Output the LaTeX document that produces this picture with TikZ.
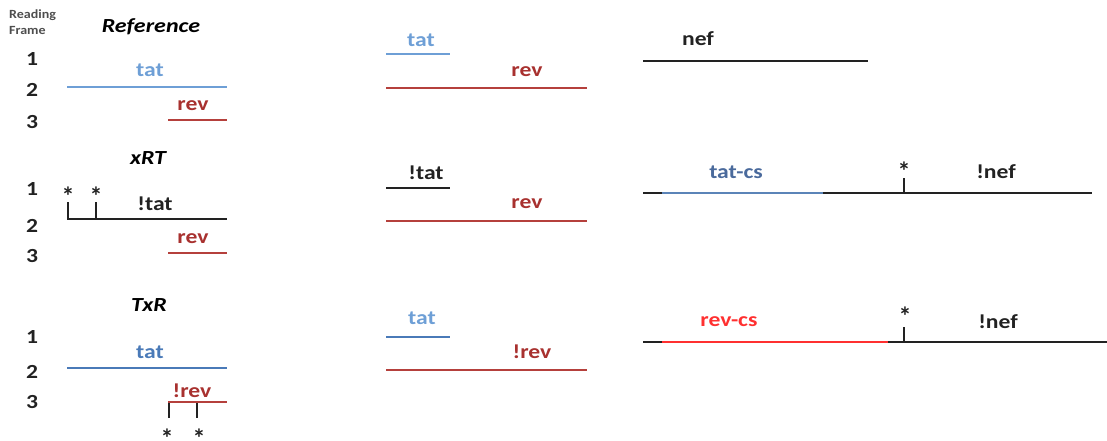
\documentclass[tikz,border=0pt]{standalone}
\usepackage{fontspec}
\setmainfont{Carlito}
\definecolor{tatlight}{HTML}{6E9FD6}
\definecolor{tatdark}{HTML}{4A7AB8}
\definecolor{revred}{HTML}{A8312F}
\definecolor{revline}{HTML}{B5403C}
\definecolor{tatcs}{HTML}{4A6A9C}
\definecolor{tatcsline}{HTML}{5B84B8}
\definecolor{revcs}{HTML}{FF3030}
\definecolor{ink}{HTML}{222222}
\newcommand{\stopmark}{\raisebox{-0.42em}[0.32em][0pt]{*}}
\begin{document}
\begin{tikzpicture}[x=1pt,y=-1pt,
  lbl/.style={font=\fontsize{20}{24}\selectfont\bfseries, inner sep=0pt, xscale=1.18},
  ttl/.style={font=\fontsize{20}{24}\selectfont\bfseries\itshape, inner sep=0pt, xscale=1.2},
  small/.style={font=\fontsize{12.5}{14}\selectfont\bfseries, inner sep=0pt, xscale=1.12, text=ink!80, anchor=west},
  num/.style={lbl, text=ink},
  star/.style={font=\fontsize{26}{28}\selectfont\bfseries, inner sep=0pt, text=ink},
  seg/.style={line width=2pt},
  tick/.style={line width=2pt, draw=ink},
]
\useasboundingbox (0,0) rectangle (1107,441);

% ---------- header ----------
\node[small] (rd) at (9,15) {Reading};
\node[small] (fr) at (9,30) {Frame};

% ---------- Reference ----------
\node[ttl] (tref) at (151,27) {Reference};
\node[num] (r1) at (32,59) {1};
\node[num] (r2) at (32,90) {2};
\node[num] (r3) at (32,122) {3};
\node[lbl, text=tatlight] (rtat) at (150,70) {tat};
\coordinate (rtatA) at (67,87); \coordinate (rtatB) at (227,87);
\draw[seg, draw=tatlight] (rtatA) -- (rtatB);
\node[lbl, text=revred] (rrev) at (193,106) {rev};
\coordinate (rrevA) at (168,120); \coordinate (rrevB) at (227,120);
\draw[seg, draw=revline] (rrevA) -- (rrevB);

% ---------- xRT ----------
\node[ttl] (txrt) at (148,158) {xRT};
\node[num] (x1) at (32,189) {1};
\node[num] (x2) at (32,226) {2};
\node[num] (x3) at (32,256) {3};
\coordinate (xA) at (67,219); \coordinate (xB) at (227,219);
\coordinate (xt1) at (68,202); \coordinate (xt1b) at (68,219);
\coordinate (xt2) at (96,202); \coordinate (xt2b) at (96,219);
\draw[tick] (xt1) -- (xt1b);
\draw[tick] (xt2) -- (xt2b);
\draw[seg, draw=ink] (xA) -- (xB);
\node[star] (xs1) at (68,190) {\stopmark};
\node[star] (xs2) at (96,190) {\stopmark};
\node[lbl, text=ink] (xtat) at (155,204) {!tat};
\node[lbl, text=revred] (xrev) at (193,239) {rev};
\coordinate (xrevA) at (168,253); \coordinate (xrevB) at (227,253);
\draw[seg, draw=revline] (xrevA) -- (xrevB);

% ---------- TxR ----------
\node[ttl] (ttxr) at (149,305) {TxR};
\node[num] (y1) at (32,337) {1};
\node[num] (y2) at (32,372) {2};
\node[num] (y3) at (32,402) {3};
\node[lbl, text=tatdark] (ytat) at (150,352) {tat};
\coordinate (ytatA) at (67,368); \coordinate (ytatB) at (227,368);
\draw[seg, draw=tatdark] (ytatA) -- (ytatB);
\node[lbl, text=revred] (yrev) at (192,391) {!rev};
\coordinate (yrevA) at (168,402); \coordinate (yrevB) at (227,402);
\coordinate (yt1) at (169,402); \coordinate (yt1b) at (169,418);
\coordinate (yt2) at (197,402); \coordinate (yt2b) at (197,418);
\draw[tick] (yt1) -- (yt1b);
\draw[tick] (yt2) -- (yt2b);
\draw[seg, draw=revline] (yrevA) -- (yrevB);
\node[star] (ys1) at (167,432) {\stopmark};
\node[star] (ys2) at (199,432) {\stopmark};

% ---------- middle column ----------
\node[lbl, text=tatlight] (mtat1) at (421,40) {tat};
\coordinate (m1A) at (386,54); \coordinate (m1B) at (450,54);
\draw[seg, draw=tatlight] (m1A) -- (m1B);
\node[lbl, text=revred] (mrev1) at (527,72) {rev};
\coordinate (m2A) at (386,88); \coordinate (m2B) at (587,88);
\draw[seg, draw=revline] (m2A) -- (m2B);

\node[lbl, text=ink] (mtat2) at (426,173) {!tat};
\coordinate (m3A) at (386,188); \coordinate (m3B) at (450,188);
\draw[seg, draw=ink] (m3A) -- (m3B);
\node[lbl, text=revred] (mrev2) at (527,204) {rev};
\coordinate (m4A) at (386,221); \coordinate (m4B) at (587,221);
\draw[seg, draw=revline] (m4A) -- (m4B);

\node[lbl, text=tatlight] (mtat3) at (422,318) {tat};
\coordinate (m5A) at (386,337); \coordinate (m5B) at (450,337);
\draw[seg, draw=tatdark] (m5A) -- (m5B);
\node[lbl, text=revred] (mrev3) at (532,352) {!rev};
\coordinate (m6A) at (386,370); \coordinate (m6B) at (587,370);
\draw[seg, draw=revline] (m6A) -- (m6B);

% ---------- right column ----------
\node[lbl, text=ink] (nef1) at (698,39) {nef};
\coordinate (n1A) at (643,61); \coordinate (n1B) at (868,61);
\draw[seg, draw=ink] (n1A) -- (n1B);

\coordinate (n2A) at (643,193); \coordinate (n2B) at (1092,193);
\coordinate (n2C) at (662,193); \coordinate (n2D) at (823,193);
\draw[seg, draw=ink] (n2A) -- (n2B);
\draw[seg, draw=tatcsline] (n2C) -- (n2D);
\coordinate (n2t) at (904,178); \coordinate (n2tb) at (904,193);
\draw[tick] (n2t) -- (n2tb);
\node[star] (n2s) at (904,165) {\stopmark};
\node[lbl, text=tatcs] (tatcs) at (736,172) {tat-cs};
\node[lbl, text=ink] (nef2) at (996,172) {!nef};

\coordinate (n3A) at (643,342); \coordinate (n3B) at (1107,342);
\coordinate (n3C) at (662,342); \coordinate (n3D) at (888,342);
\draw[seg, draw=ink] (n3A) -- (n3B);
\draw[seg, draw=revcs] (n3C) -- (n3D);
\coordinate (n3t) at (904,327); \coordinate (n3tb) at (904,342);
\draw[tick] (n3t) -- (n3tb);
\node[star] (n3s) at (905,310) {\stopmark};
\node[lbl, text=revcs] (revcs) at (729,322) {rev-cs};
\node[lbl, text=ink] (nef3) at (998,322) {!nef};
\end{tikzpicture}
\end{document}
